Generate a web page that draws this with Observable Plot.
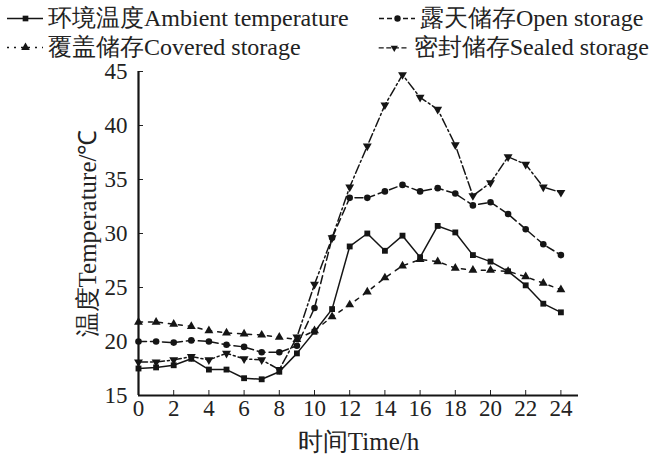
<!DOCTYPE html>
<html><head><meta charset="utf-8">
<script src="https://cdn.jsdelivr.net/npm/d3@7"></script>
<script src="https://cdn.jsdelivr.net/npm/@observablehq/plot@0.6"></script>
<style>
body{margin:0;background:#fff;font-family:"Liberation Serif","Times New Roman",serif;}
#legend{position:relative;height:56px;width:649px;font-size:24px;color:#222;}
.item{position:absolute;display:flex;align-items:center;white-space:nowrap;line-height:1;}
.item svg{margin-right:3px;}
#chart svg{display:block;overflow:visible;}
</style></head><body>
<div id="legend"></div><div id="chart"></div>
<script>
const hours = [0,1,2,3,4,5,6,7,8,9,10,11,12,13,14,15,16,17,18,19,20,21,22,23,24];
const ambient = [17.5,17.6,17.8,18.4,17.4,17.4,16.6,16.5,17.2,18.9,20.9,23.0,28.8,30.0,28.4,29.8,27.8,30.7,30.1,28.0,27.4,26.5,25.2,23.5,22.7];
const openStorage = [20.0,20.0,19.9,20.1,20.0,19.7,19.5,19.0,19.0,19.6,23.1,29.6,33.3,33.3,33.9,34.5,33.9,34.2,33.7,32.6,32.9,31.8,30.4,29.0,28.0];
const covered = [21.8,21.8,21.6,21.4,21.0,20.8,20.7,20.6,20.4,20.2,21.0,22.3,23.4,24.6,25.9,27.0,27.6,27.4,26.8,26.6,26.6,26.5,26.0,25.4,24.8];
const sealed = [18.1,18.1,18.3,18.6,18.3,18.9,18.4,18.3,17.4,20.4,25.3,29.6,34.3,38.1,41.9,44.7,42.6,41.5,38.2,33.5,34.7,37.1,36.4,34.3,33.8];
const seriesNames = ["环境温度Ambient temperature","露天储存Open storage","覆盖储存Covered storage","密封储存Sealed storage"];
const xTicks = [0,2,4,6,8,10,12,14,16,18,20,22,24];
const yTicks = [15,20,25,30,35,40,45];
const xLabel = "时间Time/h";
const yLabel = "温度Temperature/℃";

const series = [
  {name: seriesNames[0], values: ambient, dash: null, legendDash: null, symbol: "square", rotate: 0},
  {name: seriesNames[1], values: openStorage, dash: "8,4", legendDash: "5,3", symbol: "circle", rotate: 0},
  {name: seriesNames[2], values: covered, dash: "4,6", legendDash: "2,5", symbol: "triangle", rotate: 0},
  {name: seriesNames[3], values: sealed, dash: "9,3,2,3", legendDash: "6,3", symbol: "triangle", rotate: 180}
];
const ink = "#151515";
const serif = "'Liberation Serif', 'Times New Roman', serif";

// legend
const legendPos = [[5,6],[377,6],[5,35],[377,35]];
const legend = document.getElementById("legend");
series.forEach((s,i)=>{
  const item = document.createElement("div");
  item.className = "item";
  item.style.left = legendPos[i][0]+"px";
  item.style.top = legendPos[i][1]+"px";
  const sw = Plot.plot({
    width: 40, height: 20, margin: 0,
    x: {domain:[0,1], axis:null}, y:{domain:[0,1], axis:null},
    marks: [
      Plot.ruleY([0.5], {x1: 0.05, x2: 0.95, stroke: ink, strokeWidth: 1.6, strokeDasharray: s.legendDash}),
      Plot.dot([0.5], {x: d=>d, y: 0.5, symbol: s.symbol, rotate: s.rotate, r: 3.2, fill: ink})
    ]
  });
  item.appendChild(sw);
  const t = document.createElement("span");
  t.textContent = s.name;
  item.appendChild(t);
  legend.appendChild(item);
});

const rows = series.flatMap(s => hours.map((h,i)=>({h, v: s.values[i], name: s.name})));

const chart = Plot.plot({
  width: 649, height: 400,
  marginLeft: 138, marginRight: 71, marginTop: 15, marginBottom: 61,
  style: {fontFamily: serif, fontSize: "23px", color: "#222", background: "#fff", overflow: "visible"},
  x: {domain: [0,25]},
  y: {domain: [15,45]},
  marks: [
    Plot.axisX({ticks: xTicks, tickSize: -5, tickPadding: 9, tickFormat: d=>String(d), label: null, fontSize: 23, fontFamily: serif}),
    Plot.axisY({ticks: yTicks, tickSize: -5, tickPadding: 16, tickFormat: d=>String(d), label: null, fontSize: 23, fontFamily: serif}),
    Plot.text([xLabel], {text: d=>d, frameAnchor: "bottom", textAnchor: "middle", lineAnchor: "middle", dy: 46, fontSize: 25, fontFamily: serif, fill: "#222"}),
    Plot.text([yLabel], {text: d=>d, frameAnchor: "left", textAnchor: "middle", lineAnchor: "middle", rotate: -90, dx: -51, fontSize: 25, fontFamily: serif, fill: "#222"}),
    Plot.ruleX([0], {y1: 15, y2: 45, stroke: ink, strokeWidth: 2.2}),
    Plot.ruleY([15], {x1: 0, x2: 25, stroke: ink, strokeWidth: 2.2}),
    ...series.map(s => Plot.line(rows.filter(d=>d.name===s.name), {x: "h", y: "v", stroke: ink, strokeWidth: 1.5, strokeDasharray: s.dash})),
    ...series.map(s => Plot.dot(rows.filter(d=>d.name===s.name), {x: "h", y: "v", symbol: s.symbol, rotate: s.rotate, r: 3.3, fill: ink}))
  ]
});
document.getElementById("chart").appendChild(chart);
</script>
</body></html>
